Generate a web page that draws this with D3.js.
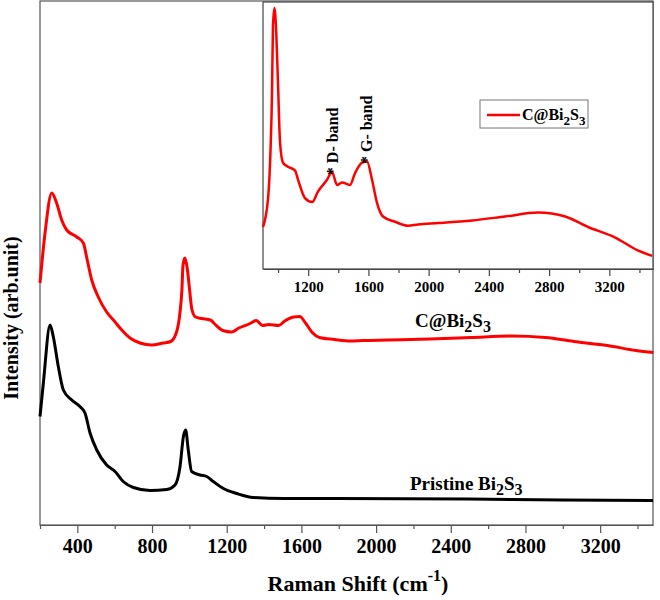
<!DOCTYPE html>
<html>
<head>
<meta charset="utf-8">
<script src="https://cdn.jsdelivr.net/npm/d3@7"></script>
<style>
  body { margin: 0; background: #fff; }
  text { font-family: "Liberation Serif", "Times New Roman", serif; font-weight: bold; }
</style>
</head>
<body>
<div id="chart-area"></div>
<script>
// Raman shift (cm-1) and intensity (arb. unit, red trace already offset up)
var redShift = [200, 227, 263, 289, 316, 343, 397, 432, 453, 477, 512, 557, 602, 638, 682, 736, 798, 860,
    900, 933, 950, 960, 966, 976, 988, 1000, 1013, 1033, 1066, 1113, 1133, 1179, 1226, 1265, 1325, 1358,
    1392, 1425, 1478, 1511, 1558, 1591, 1624, 1658, 1697, 1777, 1863, 1930, 2063, 2289, 2508, 2727,
    2907, 3059, 3239, 3392, 3485];
var redInt = [484, 584, 664, 644, 610, 590, 576, 564, 530, 490, 456, 426, 406, 390, 374, 364, 360, 364,
    367, 388, 426, 470, 520, 534, 515, 475, 432, 416, 413, 410, 403, 389, 386, 394, 403, 409,
    399, 401, 399, 408, 416, 417, 403, 385, 375, 371, 368, 369, 370, 372, 375, 378,
    375, 367, 359, 349, 345];

var blackShift = [200, 218, 254, 271, 298, 325, 370, 414, 441, 468, 504, 557, 602, 646, 700, 789, 879, 923,
    950, 968, 980, 994, 1012, 1057, 1093, 1128, 1182, 1254, 1342, 1503, 1771, 2500, 3000, 3483];
var blackInt = [217, 284, 400, 377, 317, 270, 250, 237, 224, 184, 150, 120, 107, 87, 75, 69, 71, 80,
    117, 177, 190, 150, 107, 100, 97, 87, 73, 63, 55, 53, 53, 52, 50, 49];

var mainTicks = [400, 800, 1200, 1600, 2000, 2400, 2800, 3200];
var mainMinor = [200, 600, 1000, 1400, 1800, 2200, 2600, 3000, 3400];
var insetTicks = [1200, 1600, 2000, 2400, 2800, 3200];
var insetMinor = [1000, 1400, 1800, 2200, 2600, 3000, 3400];

var red = redShift.map(function (v, i) { return {x: v, y: redInt[i]}; });
var black = blackShift.map(function (v, i) { return {x: v, y: blackInt[i]}; });

var svg = d3.select("#chart-area").append("svg")
    .attr("width", 660)
    .attr("height", 600);

// main plot
var x = d3.scaleLinear().domain([200, 3483]).range([40, 653]);
var y = d3.scaleLinear().domain([0, 1050]).range([525, 0]);

var line = d3.line()
    .x(function (d) { return x(d.x); })
    .y(function (d) { return y(d.y); })
    .curve(d3.curveMonotoneX);

svg.append("rect")
    .attr("x", 40).attr("y", 1).attr("width", 613).attr("height", 524)
    .attr("fill", "none").attr("stroke", "#555").attr("stroke-width", 1.2);

svg.append("path").datum(black)
    .attr("d", line).attr("fill", "none")
    .attr("stroke", "#000").attr("stroke-width", 3).attr("stroke-linejoin", "round");

svg.append("path").datum(red)
    .attr("d", line).attr("fill", "none")
    .attr("stroke", "#f00").attr("stroke-width", 3).attr("stroke-linejoin", "round");

var xAxis = svg.append("g")
    .attr("transform", "translate(0,525)")
    .call(d3.axisBottom(x).tickValues(mainTicks).tickFormat(d3.format("d"))
        .tickSize(8).tickSizeOuter(0).tickPadding(6));
xAxis.attr("font-family", null);
xAxis.select(".domain").attr("stroke", "#555").attr("stroke-width", 1.2);
xAxis.selectAll(".tick line").attr("stroke", "#555").attr("stroke-width", 1.2);
xAxis.selectAll("text").attr("font-size", 20).attr("fill", "#000");

svg.append("g")
    .attr("transform", "translate(0,525)")
    .call(d3.axisBottom(x).tickValues(mainMinor).tickSize(4).tickFormat(""))
    .call(function (g) {
        g.select(".domain").remove();
        g.selectAll(".tick line").attr("stroke", "#555").attr("stroke-width", 1.2);
    });

// axis titles
var xt = svg.append("text")
    .attr("x", 358).attr("y", 591)
    .attr("text-anchor", "middle").attr("font-size", 22);
xt.append("tspan").text("Raman Shift (cm");
xt.append("tspan").attr("font-size", 16).attr("dy", -10).text("-1");
xt.append("tspan").attr("dy", 10).text(")");

svg.append("text")
    .attr("transform", "translate(18,318) rotate(-90)")
    .attr("text-anchor", "middle").attr("font-size", 20)
    .text("Intensity (arb.unit)");

// series labels
function chemLabel(g, px, py, size, pre) {
    var t = g.append("text").attr("x", px).attr("y", py).attr("font-size", size);
    var sub = Math.round(size * 0.82);
    t.append("tspan").text(pre + "Bi");
    t.append("tspan").attr("font-size", sub).attr("dy", 5).text("2");
    t.append("tspan").attr("dy", -5).text("S");
    t.append("tspan").attr("font-size", sub).attr("dy", 5).text("3");
    return t;
}
chemLabel(svg, 415, 327, 19, "C@");
chemLabel(svg, 410, 490, 19, "Pristine ");

// inset
var ix = d3.scaleLinear().domain([900, 3490]).range([263, 653]);
var iy = d3.scaleLinear().domain([335, 538.5]).range([269, 2]);

var insetLine = d3.line()
    .x(function (d) { return ix(d.x); })
    .y(function (d) { return iy(d.y); })
    .curve(d3.curveMonotoneX);

svg.append("rect")
    .attr("x", 263).attr("y", 2).attr("width", 390).attr("height", 267)
    .attr("fill", "#fff").attr("stroke", "#444").attr("stroke-width", 1.2);

svg.append("path").datum(red.filter(function (d) { return d.x >= 900; }))
    .attr("d", insetLine).attr("fill", "none")
    .attr("stroke", "#f00").attr("stroke-width", 2.5).attr("stroke-linejoin", "round");

var ixAxis = svg.append("g")
    .attr("transform", "translate(0,269)")
    .call(d3.axisBottom(ix).tickValues(insetTicks).tickFormat(d3.format("d"))
        .tickSize(7).tickSizeOuter(0).tickPadding(5));
ixAxis.attr("font-family", null);
ixAxis.select(".domain").attr("stroke", "#444").attr("stroke-width", 1.2);
ixAxis.selectAll(".tick line").attr("stroke", "#444").attr("stroke-width", 1.2);
ixAxis.selectAll("text").attr("font-size", 15).attr("fill", "#000");

svg.append("g")
    .attr("transform", "translate(0,269)")
    .call(d3.axisBottom(ix).tickValues(insetMinor).tickSize(4).tickFormat(""))
    .call(function (g) {
        g.select(".domain").remove();
        g.selectAll(".tick line").attr("stroke", "#444").attr("stroke-width", 1.2);
    });

// band annotations
svg.append("text")
    .attr("transform", "translate(" + (ix(1358) + 6) + "," + (iy(408.8) + 3) + ") rotate(-90)")
    .attr("font-size", 16).text("* D- band");
svg.append("text")
    .attr("transform", "translate(" + (ix(1591) + 5) + "," + (iy(416.5) + 2) + ") rotate(-90)")
    .attr("font-size", 16).text("* G- band");

// inset legend
svg.append("rect")
    .attr("x", 480).attr("y", 100).attr("width", 108).attr("height", 28)
    .attr("fill", "#fff").attr("stroke", "#777").attr("stroke-width", 1);
svg.append("line")
    .attr("x1", 487).attr("x2", 520).attr("y1", 115).attr("y2", 115)
    .attr("stroke", "#f00").attr("stroke-width", 2.5);
chemLabel(svg, 522, 120, 16, "C@");
</script>
</body>
</html>
